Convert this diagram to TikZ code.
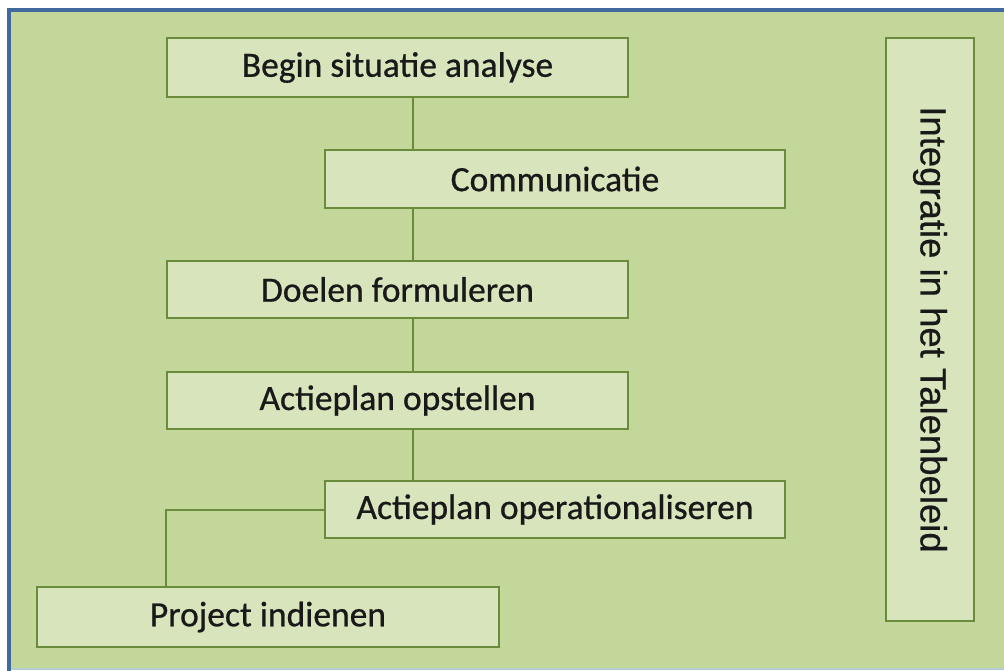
\documentclass[tikz,border=0pt]{standalone}
\usepackage{fontspec}
\setmainfont{Carlito}
\newfontfamily\stapfont{Carlito}[FakeBold=0.7]
\newfontfamily\sidefont{Liberation Sans}[FakeBold=0.5]
\usepackage{tikz}

\definecolor{bgolive}{HTML}{C4D79B}
\definecolor{boxolive}{HTML}{D8E4BC}
\definecolor{lineolive}{HTML}{6A8A3C}
\definecolor{frameblue}{HTML}{41699E}
\definecolor{framelight}{HTML}{B4CCD2}

\begin{document}
\begin{tikzpicture}[x=1pt,y=-1pt,
	stap/.style={draw=lineolive,line width=2pt,fill=boxolive,rectangle,
		inner sep=0pt,text=black!90,font=\stapfont\fontsize{35.5}{42}\selectfont},
	verbind/.style={draw=lineolive,line width=2pt}]

	\useasboundingbox (0,0) rectangle (1004,671);
	\fill[white] (0,0) rectangle (1004,671);
	\fill[bgolive] (9,10) rectangle (1004,669);
	%\draw[gray,step=50] (0,0) grid (1004,671);

	% kader
	\draw[frameblue,line width=4pt] (9,671) -- (9,10.5) -- (1004,10.5);
	\draw[framelight,line width=2pt] (11,669) -- (1004,669);

	% stappen
	\node[stap,minimum width=461pt,minimum height=59pt] (begin) at (397.5,67.5) {Begin situatie analyse};
	\node[stap,minimum width=460pt,minimum height=58pt] (comm) at (555,179) {Communicatie};
	\node[stap,minimum width=461pt,minimum height=57pt] (doel) at (397.5,289.5) {Doelen formuleren};
	\node[stap,minimum width=461pt,minimum height=57pt] (actie) at (397.5,400.5) {Actieplan opstellen};
	\node[stap,minimum width=460pt,minimum height=57pt] (oper) at (555,509.5) {Actieplan operationaliseren};
	\node[stap,minimum width=462pt,minimum height=60pt] (project) at (268,617) {Project indienen};

	% gedraaid: breedte en hoogte omgewisseld
	\node[stap,minimum width=583pt,minimum height=88pt,rotate=-90,
		font=\sidefont\fontsize{36.5}{42}\selectfont] (talen) at (930,329.5)
		{Integratie in het Talenbeleid};

	% lijnen
	\coordinate (as) at (413,0);
	\draw[verbind] (begin.south -| as) -- (comm.north -| as);
	\draw[verbind] (comm.south -| as) -- (doel.north -| as);
	\draw[verbind] (doel.south -| as) -- (actie.north -| as);
	\draw[verbind] (actie.south -| as) -- (oper.north -| as);
	\draw[verbind] (oper.west) -| (project.north -| doel.west);
\end{tikzpicture}
\end{document}
